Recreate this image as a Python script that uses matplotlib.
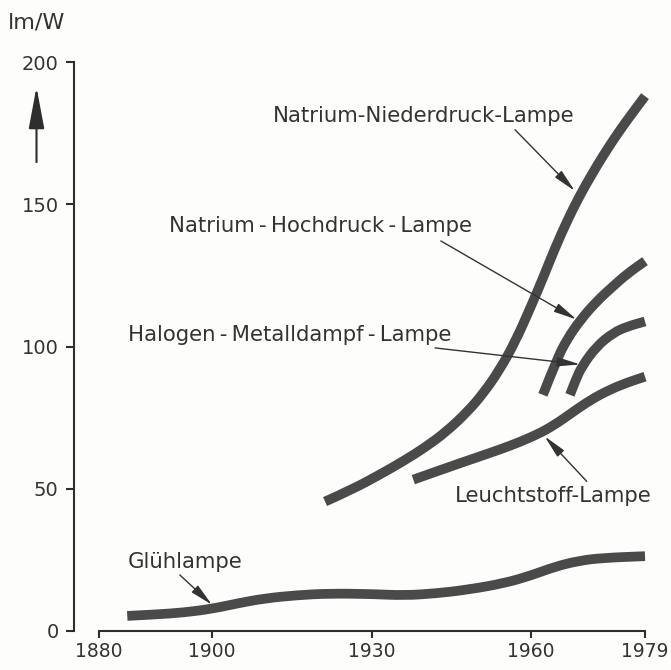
import numpy as np
import matplotlib
matplotlib.use("Agg")
import matplotlib.pyplot as plt
import matplotlib.transforms as mtransforms
from matplotlib.path import Path
from matplotlib.patches import PathPatch

# values (year, lm/W)
glueh_years = [1885, 1890, 1895, 1900, 1905, 1910, 1916, 1922, 1930, 1936, 1942, 1948, 1955, 1960, 1964, 1968, 1972, 1979]
glueh_vals = [5.3, 5.8, 6.5, 7.8, 9.8, 11.5, 12.6, 13.2, 13.0, 12.5, 13.2, 14.5, 16.8, 19.5, 22.6, 24.7, 25.7, 26.3]

nd_years = [1921.2, 1926, 1931.5, 1936, 1940, 1944, 1948, 1951, 1954, 1957, 1960, 1962, 1964, 1966, 1968, 1970, 1972, 1974, 1976, 1979]
nd_vals = [45.5, 49.5, 55.0, 59.8, 64.5, 70.0, 77.0, 83.5, 91.5, 101.5, 114.0, 124.0, 134.5, 144.0, 152.5, 160.0, 167.0, 173.5, 179.5, 188.0]

hd_years = [1962, 1964.3, 1966, 1968.3, 1971, 1973.7, 1976, 1979]
hd_vals = [83.0, 95.4, 102.5, 109.5, 116.0, 121.2, 125.5, 130.0]

hal_years = [1966.5, 1967.5, 1968.5, 1970.9, 1973.7, 1976, 1979]
hal_vals = [83.0, 88.5, 93.0, 100.0, 104.8, 107.0, 108.8]

ls_years = [1937.8, 1944, 1950.4, 1954.3, 1958, 1961, 1964, 1967, 1970, 1973, 1976, 1979]
ls_vals = [53.2, 57.3, 61.4, 63.9, 66.5, 69.0, 72.5, 77.0, 81.3, 84.7, 87.3, 89.4]

x_ticks = [1880, 1900, 1930, 1960, 1979]
y_ticks = [0, 50, 100, 150, 200]

# the hand drawn year axis is not evenly spaced: where each tick sits (0..1 of axis length)
tick_frac = [0.0, 0.207, 0.5, 0.791, 1.0]

curve_col = '#4a4a4a'
text_col = '#333333'
axis_col = '#2e2e2e'
bg = '#fdfdfb'


def fwd(x):
    return np.interp(x, x_ticks, tick_frac)


def inv(f):
    return np.interp(f, tick_frac, x_ticks)


def smooth(xs, ys):
    # quadratic bezier through midpoints -> smooth band like the drawing
    verts = [(xs[0], ys[0])]
    codes = [Path.MOVETO]
    for i in range(1, len(xs) - 1):
        verts += [(xs[i], ys[i]), ((xs[i] + xs[i+1]) / 2, (ys[i] + ys[i+1]) / 2)]
        codes += [Path.CURVE3, Path.CURVE3]
    verts.append((xs[-1], ys[-1]))
    codes.append(Path.LINETO)
    return Path(verts, codes)


fig = plt.figure(figsize=(6.71, 6.70), dpi=100, facecolor=bg)
ax = fig.add_axes([99/671, 1-631/670, (645-99)/671, (631-62)/670])
ax.set_facecolor(bg)
ax.set_xscale('function', functions=(fwd, inv))
ax.set_xlim(1880, 1979)
ax.set_ylim(0, 200)

for xs, ys in [(glueh_years, glueh_vals), (nd_years, nd_vals), (hd_years, hd_vals),
               (hal_years, hal_vals), (ls_years, ls_vals)]:
    ax.add_patch(PathPatch(smooth(xs, ys), fill=False, lw=7, edgecolor=curve_col,
                           capstyle='butt', joinstyle='round', clip_on=False))

for s in ['top', 'right']:
    ax.spines[s].set_visible(False)
ax.spines['left'].set_position(('outward', 18))
ax.spines['left'].set_bounds(0, 200)
ax.spines['bottom'].set_bounds(1880, 1979)
for s in ['left', 'bottom']:
    ax.spines[s].set_linewidth(1.5)
    ax.spines[s].set_color(axis_col)

ax.set_xticks(x_ticks)
ax.set_yticks(y_ticks)
ax.xaxis.set_minor_locator(matplotlib.ticker.NullLocator())
ax.set_xticklabels([str(t) for t in x_ticks], fontsize=13.5, color=text_col)
ax.set_yticklabels([str(t) for t in y_ticks], fontsize=14, color=text_col)
ax.tick_params(axis='both', direction='out', width=1.5, color=axis_col)
ax.tick_params(axis='y', length=6, pad=5)
ax.tick_params(axis='x', length=5, pad=3)

# unit and upward arrow
fig.text(8/671, 1-23/670, 'lm/W', fontsize=16, color=text_col, va='center', ha='left')
trans = mtransforms.blended_transform_factory(fig.transFigure, ax.transData)
ax.annotate('', xy=(36.5/671, 191.2), xycoords=trans, xytext=(36.5/671, 164.8), textcoords=trans,
            arrowprops=dict(arrowstyle='-|>,head_length=1.6,head_width=0.3', color=axis_col, lw=1.5,
                            shrinkA=0, shrinkB=0, mutation_scale=16))

arrow = dict(arrowstyle='-|>,head_length=1.0,head_width=0.2', color=text_col, lw=1.0,
             shrinkA=0, shrinkB=0, mutation_scale=14)
sep = '\u2009-\u2009'
labels = [
    ('Natrium-Niederdruck-Lampe', (1967.3, 181.0), 'right', (1957.0, 176.2), (1967.3, 154.7)),
    ('Natrium' + sep + 'Hochdruck' + sep + 'Lampe', (1948.9, 142.4), 'right', (1943.0, 137.1), (1967.6, 109.5)),
    ('Halogen' + sep + 'Metalldampf' + sep + 'Lampe', (1885.1, 104.2), 'left', (1941.9, 99.5), (1968.2, 93.7)),
    ('Leuchtstoff-Lampe', (1963.7, 47.3), 'center', (1969.3, 52.6), (1962.3, 68.4)),
    ('Glühlampe', (1885.0, 24.4), 'left', (1894.3, 19.7), (1900.0, 9.2)),
]
for txt, pos, ha, start, end in labels:
    ax.text(pos[0], pos[1], txt, fontsize=15.3, color=text_col, ha=ha, va='center', clip_on=False)
    ax.annotate('', xy=end, xytext=start, arrowprops=arrow, annotation_clip=False)

fig.savefig('out.png', dpi=100, facecolor=fig.get_facecolor())
